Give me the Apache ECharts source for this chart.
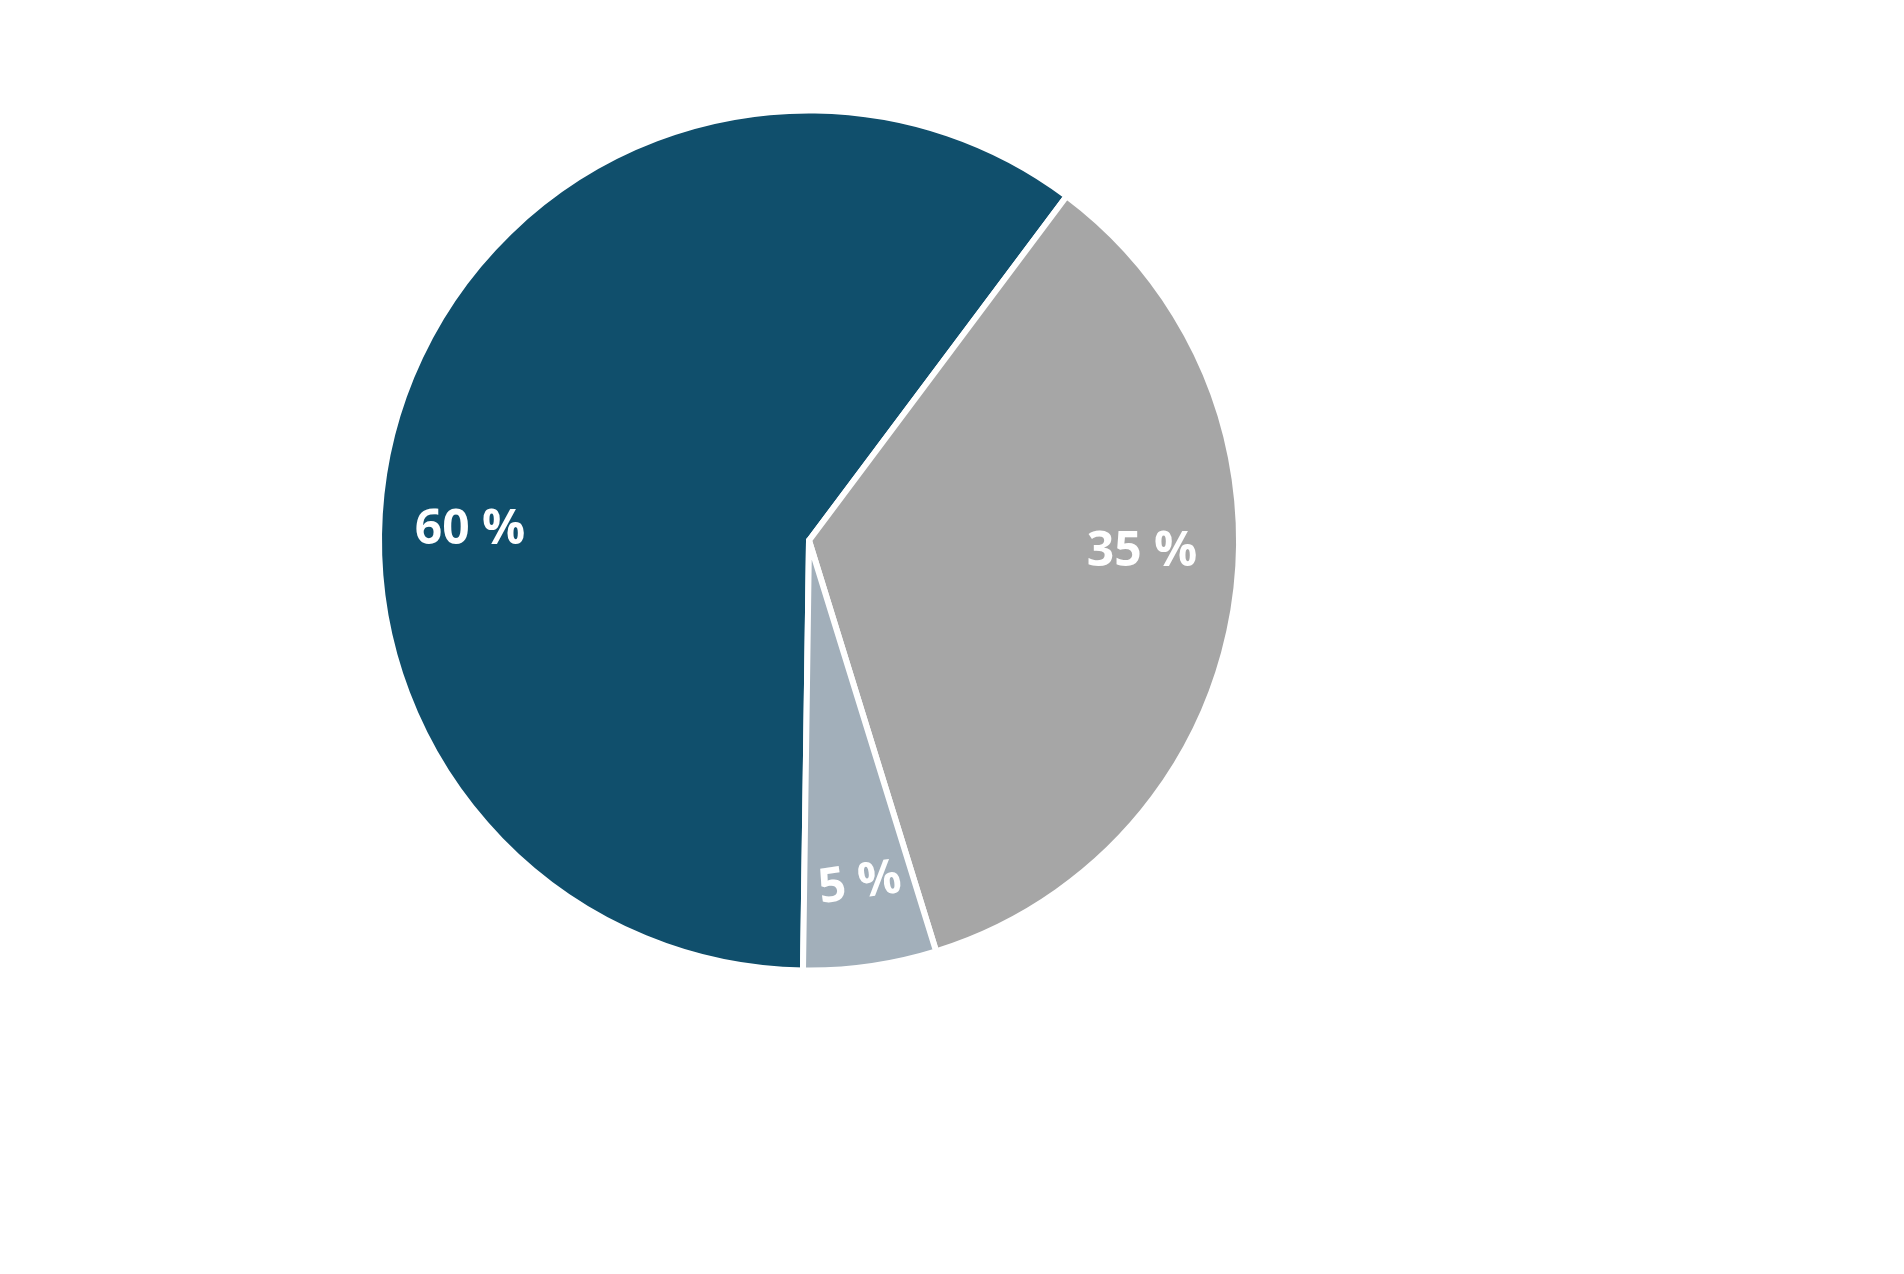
<!DOCTYPE html>
<html>
<head>
<meta charset="utf-8">
<script src="https://cdn.jsdelivr.net/npm/echarts@6/dist/echarts.min.js"></script>
<style>
html,body{margin:0;padding:0;background:#fff;}
#chart{width:1904px;height:1274px;}
</style>
</head>
<body>
<div id="chart"></div>
<script>
var categories = ['A', 'B', 'C'];
var values = [60, 35, 5];
var colors = ['#104F6C', '#A6A6A6', '#A2AFBA'];
var labelRotate = [0, 0, 8];
var labelOffsets = [[-339, -10], [333, 12], [33, 345]];

var CX = 809, CY = 540.5, R = 430;

var chart = echarts.init(document.getElementById('chart'), null, {renderer: 'canvas'});
var data = categories.map(function (c, i) {
  return {
    name: c,
    value: values[i],
    itemStyle: {color: colors[i]},
    label: {rotate: labelRotate[i]}
  };
});
chart.setOption({
  animation: false,
  series: [{
    type: 'pie',
    center: [CX, CY],
    radius: [0, R],
    startAngle: -90.8,
    clockwise: true,
    avoidLabelOverlap: false,
    itemStyle: {borderColor: '#ffffff', borderWidth: 6, borderJoin: 'round'},
    emphasis: {disabled: true},
    label: {
      show: true,
      position: 'inside',
      formatter: '{c} %',
      color: '#ffffff',
      fontFamily: 'Open Sans',
      fontWeight: 'bold',
      fontSize: 48
    },
    labelLine: {show: false},
    labelLayout: function (p) {
      var o = labelOffsets[p.dataIndex];
      var r = p.labelRect;
      return {
        dx: CX + o[0] - (r.x + r.width / 2),
        dy: CY + o[1] - (r.y + r.height / 2)
      };
    },
    data: data
  }]
});
</script>
</body>
</html>
